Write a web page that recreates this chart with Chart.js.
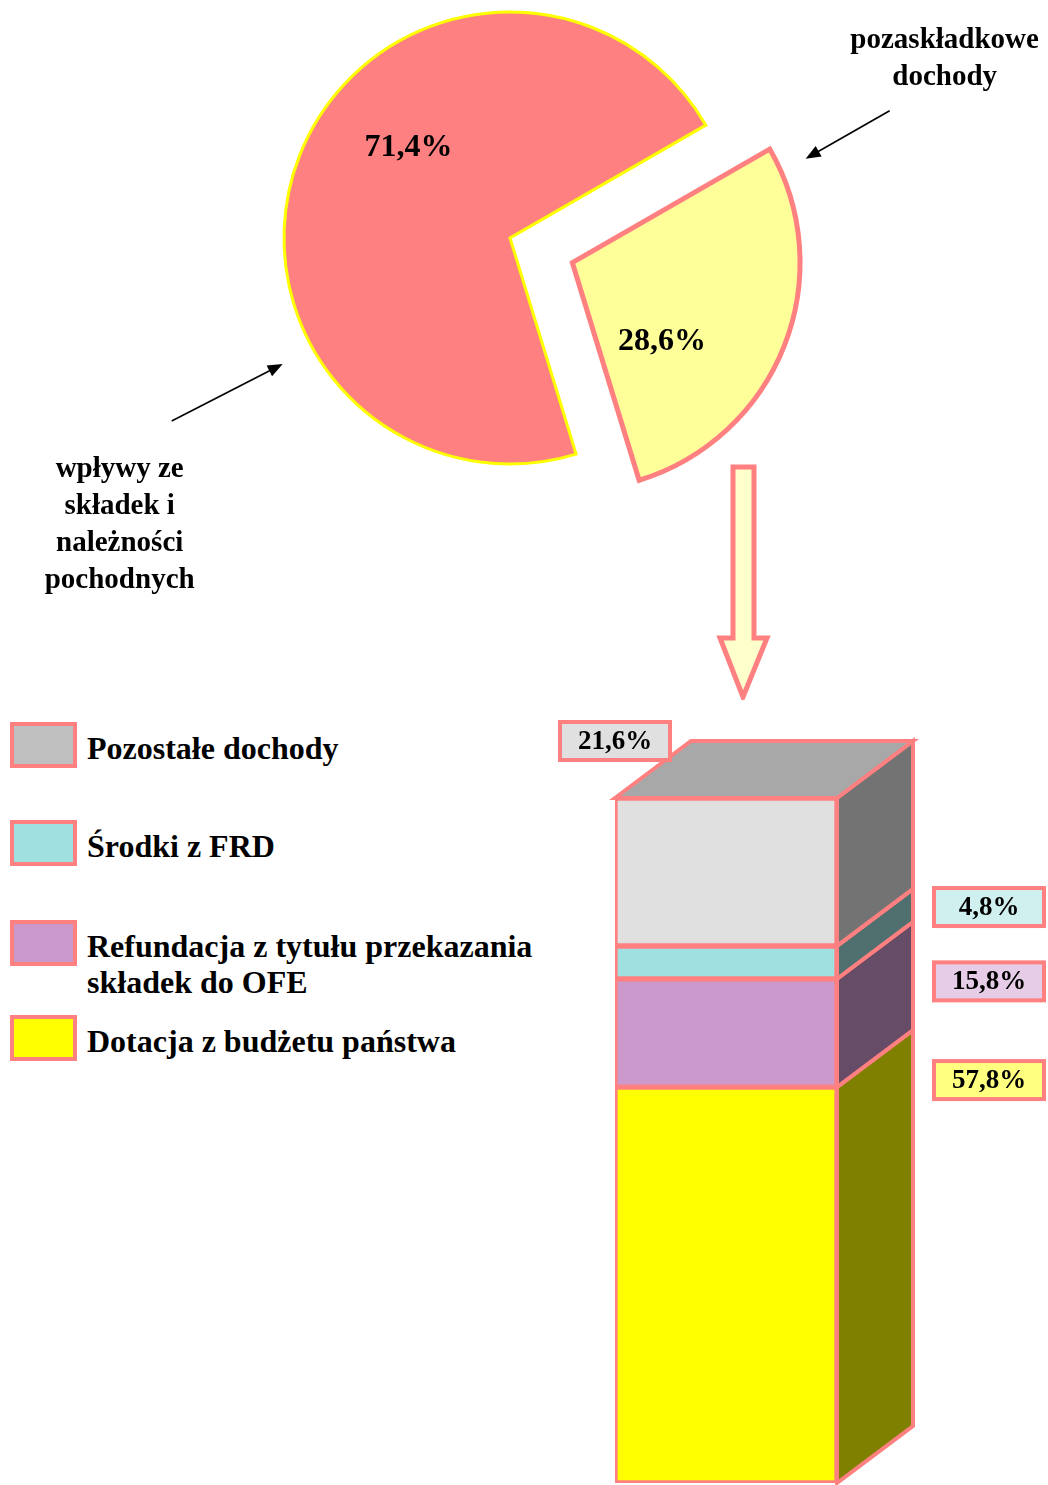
<!DOCTYPE html>
<html>
<head>
<meta charset="utf-8">
<script src="https://cdn.jsdelivr.net/npm/chart.js@4.4.1/dist/chart.umd.min.js"></script>
<style>
  html, body { margin: 0; padding: 0; background: #fff; }
  body { width: 1048px; height: 1485px; position: relative; overflow: hidden;
         font-family: "Liberation Serif", "Times New Roman", serif; font-weight: bold; }
  #pie { position: absolute; left: 0; top: 0; }
  #bar { position: absolute; left: 540px; top: 700px; }
  .item { position: absolute; left: 10px; display: flex; align-items: flex-start; }
  .box { width: 59px; height: 38px; border: 4px solid #FF8080; flex: none; }
  .txt { margin-left: 10px; padding-top: 8px; font-size: 32px; line-height: 36px; color: #000; white-space: nowrap; }
</style>
</head>
<body>
<canvas id="pie" width="1048" height="700"></canvas>
<canvas id="bar" width="508" height="785"></canvas>
<div id="legend"></div>
<script>
// pie: structure of revenues
var pieLabels = [['wpływy ze', 'składek i', 'należności', 'pochodnych'], ['pozaskładkowe', 'dochody']];
var pieValues = [71.4, 28.6];

// stacked column: non-contribution revenues (bottom -> top)
var barLabels = [['Dotacja z budżetu państwa'], ['Refundacja z tytułu przekazania', 'składek do OFE'], ['Środki z FRD'], ['Pozostałe dochody']];
var barValues = [57.8, 15.8, 4.8, 21.6];

var PINK = '#FF8080';
var frontColors = ['#FFFF00', '#CC99CC', '#A0E0E0', '#E0E0E0'];
var legendColors = ['#FFFF00', '#CC99CC', '#A0E0E0', '#C0C0C0'];
var sideColors = ['#808000', '#664C66', '#507070', '#737373'];
var labelFills = ['#FFFF80', '#E6CCE6', '#D0F0F0', '#E0E0E0'];
var legendTops = [1015, 920, 820, 722];

function pct(v) { return v.toFixed(1).replace('.', ',') + '%'; }

function arrowLine(ctx, x0, y0, x1, y1) {
  var a = Math.atan2(y1 - y0, x1 - x0);
  ctx.strokeStyle = '#000'; ctx.fillStyle = '#000'; ctx.lineWidth = 1.6;
  ctx.beginPath(); ctx.moveTo(x0, y0);
  ctx.lineTo(x1 - 12 * Math.cos(a), y1 - 12 * Math.sin(a)); ctx.stroke();
  ctx.beginPath(); ctx.moveTo(x1, y1);
  ctx.lineTo(x1 - 15 * Math.cos(a) + 6 * Math.sin(a), y1 - 15 * Math.sin(a) - 6 * Math.cos(a));
  ctx.lineTo(x1 - 15 * Math.cos(a) - 6 * Math.sin(a), y1 - 15 * Math.sin(a) + 6 * Math.cos(a));
  ctx.closePath(); ctx.fill();
}

// label placement relative to each slice: angle shift (deg) and radius fraction
var labelShift = [20, 20], labelRadius = [0.6, 0.53];
// callouts: tip angle (deg) / distance (x R), tail vector, text anchor from tail
var callouts = [
  { angle: 151, dist: 1.15, tail: [-111, 57], text: [-52, 56] },
  { angle: -24, dist: 1.13, tail: [84, -48], text: [55, -26] }
];

var pieDecor = {
  id: 'pieDecor',
  afterDatasetsDraw: function (chart) {
    var ctx = chart.ctx;
    var arcs = chart.getDatasetMeta(0).data;
    var offs = chart.data.datasets[0].offset;
    ctx.save();
    arcs.forEach(function (arc, i) {
      var mid = (arc.startAngle + arc.endAngle) / 2;
      var cx = arc.x + Math.cos(mid) * offs[i] / 4;
      var cy = arc.y + Math.sin(mid) * offs[i] / 4;
      var R = arc.outerRadius;
      // value label
      var la = mid + labelShift[i] * Math.PI / 180;
      ctx.fillStyle = '#000';
      ctx.font = 'bold 32px "Liberation Serif"';
      ctx.textAlign = 'center'; ctx.textBaseline = 'middle';
      ctx.fillText(pct(pieValues[i]), cx + Math.cos(la) * R * labelRadius[i], cy + Math.sin(la) * R * labelRadius[i]);
      // callout arrow + category text
      var c = callouts[i];
      var ta = c.angle * Math.PI / 180;
      var tx = cx + Math.cos(ta) * R * c.dist, ty = cy + Math.sin(ta) * R * c.dist;
      var sx = tx + c.tail[0], sy = ty + c.tail[1];
      arrowLine(ctx, sx, sy, tx, ty);
      var lines = chart.data.labels[i];
      ctx.font = 'bold 29px "Liberation Serif"';
      ctx.textBaseline = 'alphabetic';
      var y0 = c.text[1] < 0 ? sy + c.text[1] - (lines.length - 1) * 37 : sy + c.text[1];
      lines.forEach(function (t, k) { ctx.fillText(t, sx + c.text[0], y0 + k * 37); });
    });
    // block arrow pointing to the breakdown below
    ctx.beginPath();
    ctx.moveTo(733, 467); ctx.lineTo(754, 467); ctx.lineTo(754, 638); ctx.lineTo(767, 638);
    ctx.lineTo(743, 697); ctx.lineTo(720, 638); ctx.lineTo(733, 638); ctx.closePath();
    ctx.fillStyle = '#FFFFCC'; ctx.fill();
    ctx.strokeStyle = PINK; ctx.lineWidth = 5; ctx.lineJoin = 'miter'; ctx.stroke();
    ctx.restore();
  }
};

new Chart(document.getElementById('pie'), {
  type: 'pie',
  data: {
    labels: pieLabels,
    datasets: [{
      data: pieValues,
      backgroundColor: ['#FF8080', '#FFFF99'],
      borderColor: ['#FFFF00', PINK],
      borderWidth: [3, 5],
      borderJoinStyle: 'miter',
      offset: [0, 268]
    }]
  },
  options: {
    responsive: false,
    animation: false,
    rotation: 163,
    radius: 226,
    layout: { padding: { left: 0, top: 0, right: 28, bottom: 224 } },
    plugins: { legend: { display: false }, tooltip: { enabled: false } }
  },
  plugins: [pieDecor]
});

// 3D depth of the column
var depth = { dx: 76, dy: -57 };

var bar3d = {
  id: 'bar3d',
  afterDatasetsDraw: function (chart) {
    var ctx = chart.ctx;
    var n = chart.data.datasets.length;
    ctx.save();
    ctx.lineJoin = 'miter';
    for (var i = 0; i < n; i++) {
      var b = chart.getDatasetMeta(i).data[0];
      var x1 = b.x - b.width / 2, x2 = b.x + b.width / 2;
      var yT = Math.min(b.y, b.base), yB = Math.max(b.y, b.base);
      ctx.beginPath();
      ctx.moveTo(x2, yT); ctx.lineTo(x2 + depth.dx, yT + depth.dy);
      ctx.lineTo(x2 + depth.dx, yB + depth.dy); ctx.lineTo(x2, yB); ctx.closePath();
      ctx.fillStyle = sideColors[i]; ctx.fill();
      ctx.strokeStyle = PINK; ctx.lineWidth = 4; ctx.stroke();
      if (i === n - 1) {
        ctx.beginPath();
        ctx.moveTo(x1, yT); ctx.lineTo(x1 + depth.dx, yT + depth.dy);
        ctx.lineTo(x2 + depth.dx, yT + depth.dy); ctx.lineTo(x2, yT); ctx.closePath();
        ctx.fillStyle = '#A8A8A8'; ctx.fill(); ctx.stroke();
      }
    }
    // value boxes
    ctx.font = 'bold 27px "Liberation Serif"';
    ctx.textAlign = 'center'; ctx.textBaseline = 'middle';
    for (var j = 0; j < n; j++) {
      var e = chart.getDatasetMeta(j).data[0];
      var l = e.x - e.width / 2, r = e.x + e.width / 2;
      var top = Math.min(e.y, e.base), h = Math.abs(e.base - e.y);
      var cx, cy;
      if (j === n - 1) { cx = l; cy = top + depth.dy; }
      else { cx = r + depth.dx + 76; cy = top + depth.dy + (h < 200 ? h * 0.55 : 50); }
      ctx.fillStyle = labelFills[j];
      ctx.fillRect(cx - 55, cy - 19, 110, 38);
      ctx.strokeStyle = PINK; ctx.lineWidth = 4;
      ctx.strokeRect(cx - 55, cy - 19, 110, 38);
      ctx.fillStyle = '#000';
      ctx.fillText(pct(barValues[j]), cx, cy + 1);
    }
    ctx.restore();
  }
};

new Chart(document.getElementById('bar'), {
  type: 'bar',
  data: {
    labels: [''],
    datasets: barValues.map(function (v, i) {
      return {
        label: barLabels[i].join(' '),
        data: [v],
        backgroundColor: frontColors[i],
        borderColor: PINK,
        borderWidth: 3,
        borderSkipped: false,
        barPercentage: 1,
        categoryPercentage: 1
      };
    })
  },
  options: {
    responsive: false,
    animation: false,
    layout: { padding: { left: 75, right: 211, top: 98, bottom: 2 } },
    scales: {
      x: { display: false, stacked: true },
      y: { display: false, stacked: true, min: 0, max: 100 }
    },
    plugins: { legend: { display: false }, tooltip: { enabled: false } }
  },
  plugins: [bar3d]
});

// legend (top to bottom = reverse of stacking)
var leg = document.getElementById('legend');
for (var k = barLabels.length - 1; k >= 0; k--) {
  var it = document.createElement('div');
  it.className = 'item';
  it.style.top = legendTops[k] + 'px';
  it.innerHTML = '<div class="box" style="background:' + legendColors[k] + '"></div>' +
    '<div class="txt">' + barLabels[k].join('<br>') + '</div>';
  leg.appendChild(it);
}
</script>
</body>
</html>
